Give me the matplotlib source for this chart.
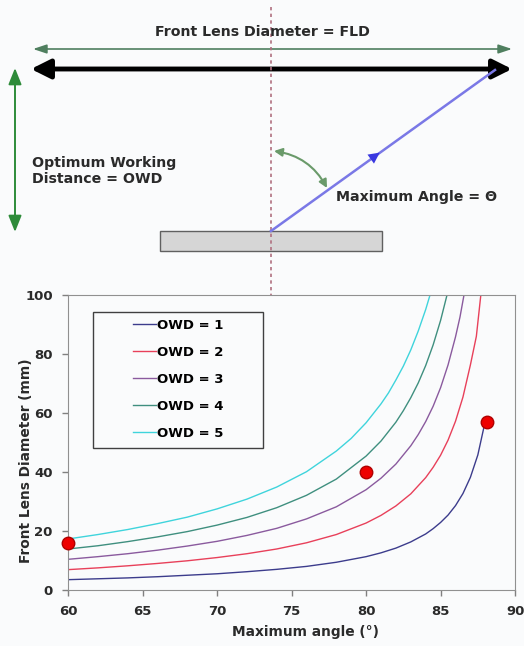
import matplotlib
matplotlib.use('Agg')
import matplotlib.pyplot as plt
from matplotlib.patches import FancyArrowPatch, Rectangle

# values: front lens diameter (mm) vs maximum angle (deg)
owd_labels = ['OWD = 1', 'OWD = 2', 'OWD = 3', 'OWD = 4', 'OWD = 5']
owd_colors = ['#3c3c8c', '#e8405a', '#8a5a9e', '#3f8f7f', '#3fd4dc']

angles_1 = [60, 62, 64, 66, 68, 70, 72, 74, 76, 78, 80, 81, 82, 83, 84, 84.5, 85, 85.5, 86, 86.5, 87, 87.5, 88]
fld_1 = [3.5, 3.8, 4.1, 4.5, 5.0, 5.5, 6.2, 7.0, 8.0, 9.4, 11.3, 12.6, 14.2, 16.3, 19.0, 20.8, 22.9, 25.4, 28.6, 32.7, 38.2, 45.8, 57.3]

angles_2 = [60, 62, 64, 66, 68, 70, 72, 74, 76, 78, 80, 81, 82, 83, 84, 84.5, 85, 85.5, 86, 86.5, 87, 87.4, 87.7]
fld_2 = [6.9, 7.5, 8.2, 9.0, 9.9, 11.0, 12.3, 13.9, 16.0, 18.8, 22.7, 25.3, 28.5, 32.6, 38.1, 41.6, 45.7, 50.8, 57.2, 65.4, 76.3, 86.0, 100]

angles_3 = [60, 62, 64, 66, 68, 70, 72, 74, 76, 78, 80, 81, 82, 83, 83.5, 84, 84.5, 85, 85.5, 86, 86.3, 86.57]
fld_3 = [10.4, 11.3, 12.3, 13.5, 14.9, 16.5, 18.5, 20.9, 24.1, 28.2, 34.0, 37.9, 42.7, 48.9, 52.7, 57.1, 62.3, 68.6, 76.3, 85.8, 92.5, 100]

angles_4 = [60, 62, 64, 66, 68, 70, 72, 74, 76, 78, 80, 81, 82, 82.5, 83, 83.5, 84, 84.5, 85, 85.43]
fld_4 = [13.9, 15.0, 16.4, 18.0, 19.8, 22.0, 24.6, 27.9, 32.1, 37.6, 45.4, 50.5, 56.9, 60.8, 65.2, 70.2, 76.1, 83.1, 91.4, 100]

angles_5 = [60, 62, 64, 66, 68, 70, 72, 74, 76, 78, 79, 80, 81, 81.5, 82, 82.5, 83, 83.5, 84, 84.29]
fld_5 = [17.3, 18.8, 20.5, 22.5, 24.7, 27.5, 30.8, 34.9, 40.1, 47.1, 51.4, 56.7, 63.1, 66.8, 71.2, 75.9, 81.4, 87.8, 95.1, 100]

series = [(angles_1, fld_1), (angles_2, fld_2), (angles_3, fld_3), (angles_4, fld_4), (angles_5, fld_5)]

dot_angles = [60, 80, 88.1]
dot_fld = [16, 40, 57]

x_ticks = [60, 65, 70, 75, 80, 85, 90]
y_ticks = [0, 20, 40, 60, 80, 100]

bg = '#fafbfc'
fig = plt.figure(figsize=(5.24, 6.46), dpi=100, facecolor=bg)

# diagram on top, drawn in pixel coordinates
dg = fig.add_axes([0, 0, 1, 1])
dg.set_xlim(0, 524)
dg.set_ylim(646, 0)
dg.axis('off')

txt_color = '#2a2a2a'
fs = 10.2
dg.text(262, 32, 'Front Lens Diameter = FLD', ha='center', va='center',
        fontsize=fs, fontweight='bold', color=txt_color)
dg.add_patch(FancyArrowPatch((33, 49), (512, 49), arrowstyle='<|-|>,head_length=0.45,head_width=0.15',
                             mutation_scale=18, color='#4f7f5f', lw=1.2, shrinkA=0, shrinkB=0))
dg.add_patch(FancyArrowPatch((31, 69), (512, 69), arrowstyle='<|-|>', mutation_scale=29,
                             color='black', lw=3.5, shrinkA=0, shrinkB=0))
dg.add_patch(FancyArrowPatch((15, 68), (15, 232), arrowstyle='<|-|>,head_length=0.45,head_width=0.18',
                             mutation_scale=22, color='#2e8b3a', lw=1.4, shrinkA=0, shrinkB=0))
dg.text(32, 171, 'Optimum Working\nDistance = OWD', ha='left', va='center',
        fontsize=fs, fontweight='bold', color=txt_color, linespacing=1.1)
dg.add_patch(Rectangle((160, 231), 222, 20, facecolor='#d6d6d6', edgecolor='#606060', lw=1))
dg.plot([271, 271], [7, 296], ls=(0, (2, 2)), color='#b07080', lw=1.2)
dg.plot([271, 495], [231, 70], color='#7a78e6', lw=1.8)
dg.annotate('', xy=(382, 151), xytext=(350, 174),
            arrowprops=dict(arrowstyle='-|>', color='#3a38e0', mutation_scale=20, lw=0))
dg.add_patch(FancyArrowPatch((274, 151), (327, 188), arrowstyle='<|-|>', mutation_scale=12,
                             color='#6a9a6a', lw=1.5, connectionstyle='arc3,rad=-0.25',
                             shrinkA=0, shrinkB=0))
dg.text(336, 197, 'Maximum Angle = \u0398', ha='left', va='center',
        fontsize=fs, fontweight='bold', color=txt_color)

# chart below
ax = fig.add_axes([0.130, 0.0867, 0.853, 0.4566])
ax.set_facecolor(bg)
for (xs, ys), lab, col in zip(series, owd_labels, owd_colors):
    ax.plot(xs, ys, color=col, lw=1.0, label=lab)
ax.plot(dot_angles, dot_fld, 'o', color='#ee0000', markeredgecolor='#b00000',
        markersize=9, clip_on=False, zorder=5)

ax.set_xlim(60, 90)
ax.set_ylim(0, 100)
ax.set_xticks(x_ticks)
ax.set_yticks(y_ticks)
ax.tick_params(direction='out', length=4, width=1, pad=7, color='#808080',
               labelsize=9.5, labelcolor=txt_color)
for lbl in ax.get_xticklabels() + ax.get_yticklabels():
    lbl.set_fontweight('bold')
for sp in ax.spines.values():
    sp.set_color('#909090')
ax.set_xlabel('Maximum angle (\u00b0)', fontsize=9.9, fontweight='bold', color=txt_color)
ax.set_ylabel('Front Lens Diameter (mm)', fontsize=9.9, fontweight='bold', color=txt_color)
ax.xaxis.set_label_coords(0.53, -0.12)
ax.yaxis.set_label_coords(-0.078, 0.437)

# legend box is wider than its entries, as in the original
ax.add_patch(Rectangle((0.056, 0.481), 0.38, 0.461, transform=ax.transAxes,
                       facecolor=bg, edgecolor='#404040', lw=1.0, zorder=6))
leg = ax.legend(loc='upper left', bbox_to_anchor=(0.145, 0.92), frameon=False,
                handlelength=1.75, handletextpad=0.05, borderpad=0, borderaxespad=0,
                labelspacing=1.07, prop={'weight': 'bold', 'size': 9.5})
leg.set_zorder(7)

fig.savefig('out.png', dpi=100, facecolor=bg)
